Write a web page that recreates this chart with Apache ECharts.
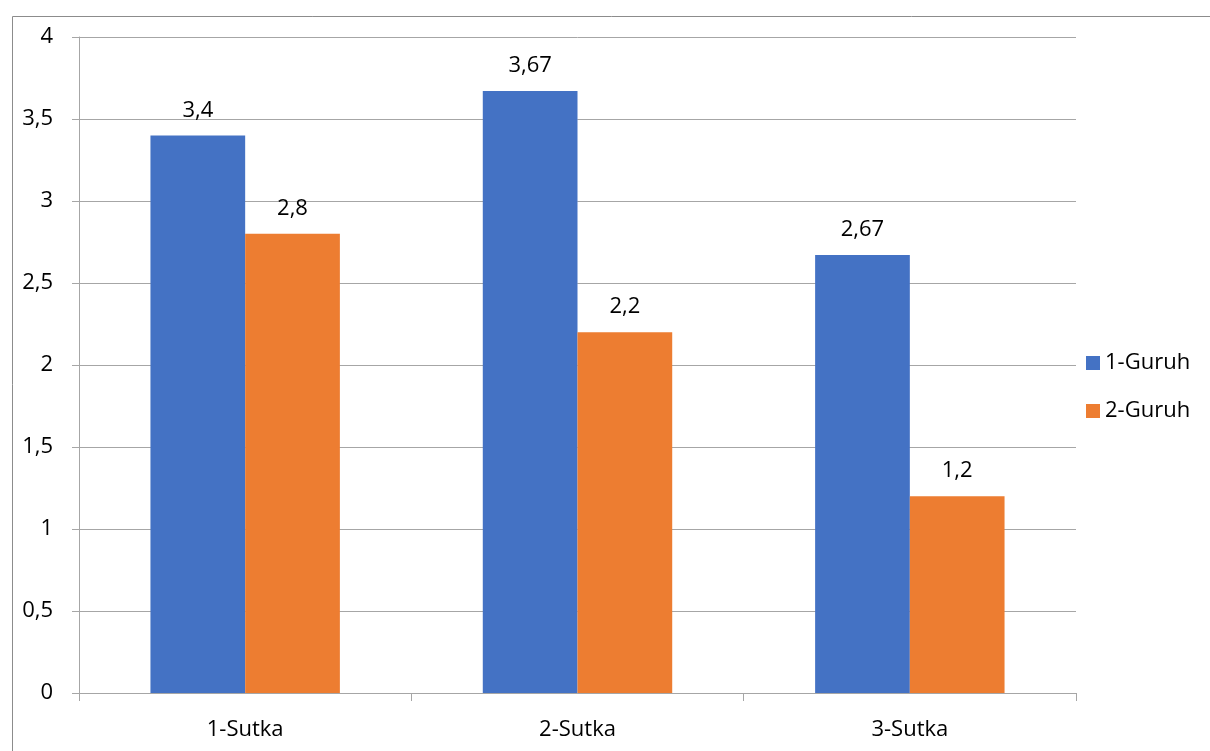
<!DOCTYPE html>
<html><head><meta charset="utf-8">
<script src="https://cdn.jsdelivr.net/npm/echarts@6/dist/echarts.min.js"></script>
<style>html,body{margin:0;padding:0;background:#fff}#c{width:1210px;height:751px}</style>
</head><body><div id="c"></div>
<script>
const categories = ['1-Sutka', '2-Sutka', '3-Sutka'];
const seriesNames = ['1-Guruh', '2-Guruh'];
const group1 = [3.4, 3.67, 2.67];
const group2 = [2.8, 2.2, 1.2];
const colors = ['#4472C4', '#ED7D31'];
const FONT = '"Open Sans", "Noto Sans", sans-serif';
const FS = 22;
const comma = v => String(v).replace('.', ',');
const chart = echarts.init(document.getElementById('c'));
chart.setOption({
  animation: false,
  textStyle: { fontFamily: FONT },
  graphic: [{
    type: 'rect', left: 10, top: 14, z: -1,
    shape: { width: 1210, height: 800 },
    style: { fill: 'none', stroke: '#8c8c8c', lineWidth: 1 }
  }],
  grid: { left: 79, right: 134, top: 37, bottom: 58 },
  legend: {
    orient: 'vertical', left: 1081, top: 347,
    itemWidth: 14, itemHeight: 14, itemGap: 26,
    icon: 'rect',
    textStyle: { fontSize: FS, color: '#000', fontFamily: FONT },
    data: seriesNames
  },
  xAxis: {
    type: 'category', data: categories,
    axisLine: { lineStyle: { color: '#a6a6a6' } },
    axisTick: { show: true, length: 8, lineStyle: { color: '#a6a6a6' } },
    axisLabel: { fontSize: FS, color: '#000', margin: 26, fontFamily: FONT }
  },
  yAxis: {
    type: 'value', min: 0, max: 4, interval: 0.5,
    axisLine: { show: true, lineStyle: { color: '#a6a6a6' } },
    axisTick: { show: true, length: 7, lineStyle: { color: '#a6a6a6' } },
    splitLine: { lineStyle: { color: '#a6a6a6' } },
    axisLabel: { fontSize: FS, color: '#000', margin: 26, formatter: comma, fontFamily: FONT }
  },
  series: [
    { name: seriesNames[0], type: 'bar', data: group1, barGap: '0%', barCategoryGap: '43%',
      itemStyle: { color: colors[0] },
      label: { show: true, position: 'top', distance: 14, fontSize: FS, color: '#000', formatter: p => comma(p.value), fontFamily: FONT } },
    { name: seriesNames[1], type: 'bar', data: group2, barGap: '0%', barCategoryGap: '43%',
      itemStyle: { color: colors[1] },
      label: { show: true, position: 'top', distance: 14, fontSize: FS, color: '#000', formatter: p => comma(p.value), fontFamily: FONT } }
  ]
});
</script></body></html>
